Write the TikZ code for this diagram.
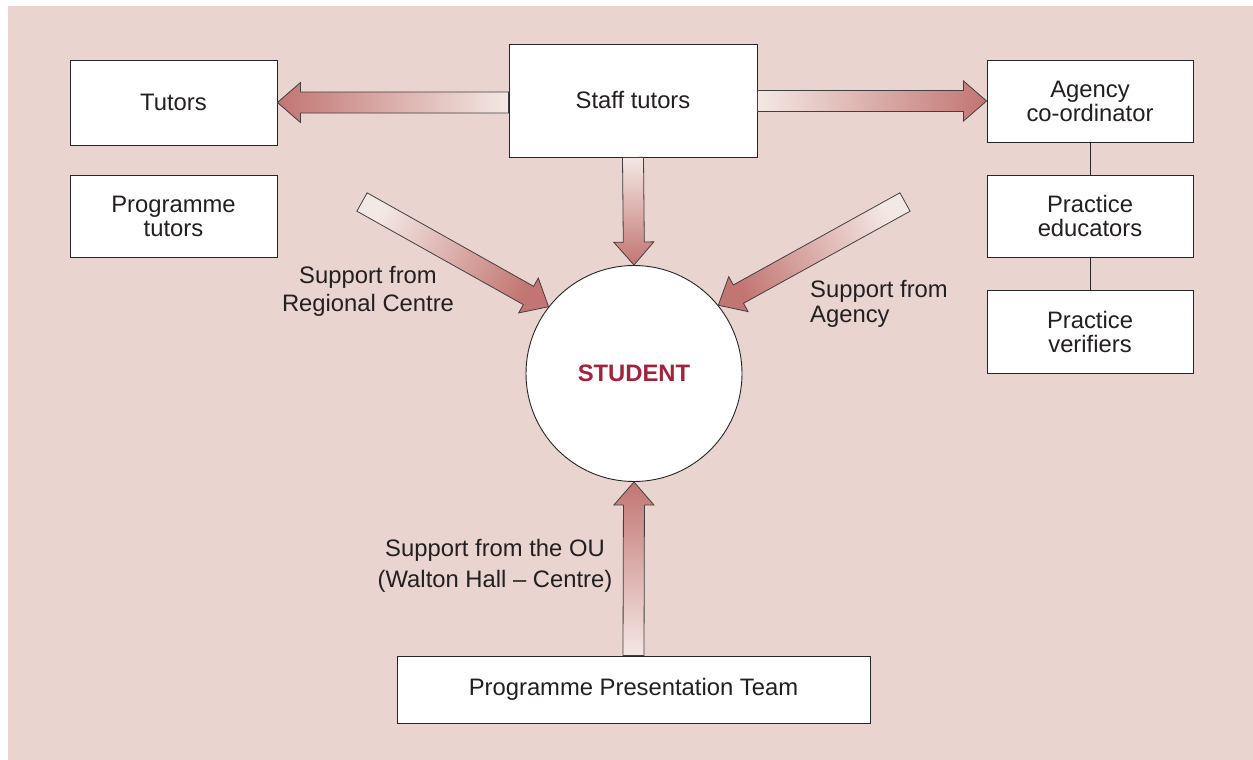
\documentclass[tikz,border=0pt]{standalone}
\usepackage{fontspec}
\setmainfont{Liberation Sans}
\usetikzlibrary{calc}
\definecolor{bgpink}{HTML}{EAD4D0}
\definecolor{arrdark}{HTML}{C27572}
\definecolor{arrlight}{HTML}{F4E8E4}
\definecolor{txt}{HTML}{231F20}
\definecolor{studred}{HTML}{A3233B}
\tikzset{
  box/.style={draw=black!85, line width=0.9pt, fill=white, inner sep=0pt,
    minimum width=207pt, minimum height=83pt, align=center, text=txt,
    font=\fontsize{23.8}{24}\selectfont},
  lbl/.style={text=txt, inner sep=0pt, font=\fontsize{23.8}{28}\selectfont},
  fat/.style={draw=black!75, line width=0.8pt, shading=axis},
  link/.style={draw=black!85, line width=0.9pt},
}
% #1 tail, #2 tip, #3 shading options
\newcommand{\fatarr}[3]{%
  \path[fat,#3]
    ($(#1)!10.5pt!90:(#2)$) --
    ($(#2)!23pt!(#1)!10.5pt!90:(#2)$) --
    ($(#2)!23pt!(#1)!20pt!90:(#2)$) --
    (#2) --
    ($(#2)!23pt!(#1)!20pt!-90:(#2)$) --
    ($(#2)!23pt!(#1)!10.5pt!-90:(#2)$) --
    ($(#1)!10.5pt!-90:(#2)$) -- cycle;}
\begin{document}
\begin{tikzpicture}[x=1pt,y=-1pt]
\useasboundingbox (0,0) rectangle (1253,760);
\fill[bgpink] (8,6) rectangle (1253,760);

% boxes
\node[box, minimum height=85pt] (tutors) at (173.5,102.5) {Tutors};
\node[box, minimum height=82pt] (ptutors) at (173.5,216) {Programme\\tutors};
\node[box, minimum width=248pt, minimum height=113pt] (staff) at (633,100.5) {Staff tutors};
\node[box, minimum width=206pt, minimum height=82pt] (agency) at (1090,101) {Agency\\co-ordinator};
\node[box, minimum width=206pt, minimum height=82pt] (educ) at (1090,216) {Practice\\educators};
\node[box, minimum width=206pt, minimum height=83pt] (verif) at (1090,331.5) {Practice\\verifiers};
\node[box, minimum width=473pt, minimum height=67pt] (team) at (633.5,689.5) {Programme Presentation Team};
\node[box, circle, minimum size=216pt, text=studred, font=\fontsize{23.8}{24}\selectfont\bfseries] (student) at (634,373.5) {STUDENT};

% links
\draw[link] (agency) -- (educ);
\draw[link] (educ) -- (verif);

% free arrow tails
\coordinate (regtail) at (362,202);
\coordinate (agtail) at (905,202);

% fat arrows
\fatarr{staff.west |- tutors.east}{tutors.east}{left color=arrdark, right color=arrlight}
\fatarr{staff.east |- agency.west}{agency.west}{left color=arrlight, right color=arrdark}
\fatarr{staff.south}{student.north}{top color=arrlight, bottom color=arrdark}
\fatarr{team.north}{student.south}{top color=arrdark, bottom color=arrlight}
\fatarr{regtail}{student.142}{top color=arrlight, bottom color=arrdark, shading angle=61}
\fatarr{agtail}{student.39}{top color=arrlight, bottom color=arrdark, shading angle=-61}

% labels
\node[lbl, align=center] (reglbl) at (368,291) {Support from\\Regional Centre};
\node[lbl, align=left, anchor=west, font=\fontsize{23.8}{25}\selectfont] (aglbl) at (810,304) {Support from\\Agency};
\node[lbl, align=center, font=\fontsize{23.8}{31}\selectfont] (oulbl) at (495,566) {Support from the OU\\(Walton Hall -- Centre)};
\end{tikzpicture}
\end{document}
